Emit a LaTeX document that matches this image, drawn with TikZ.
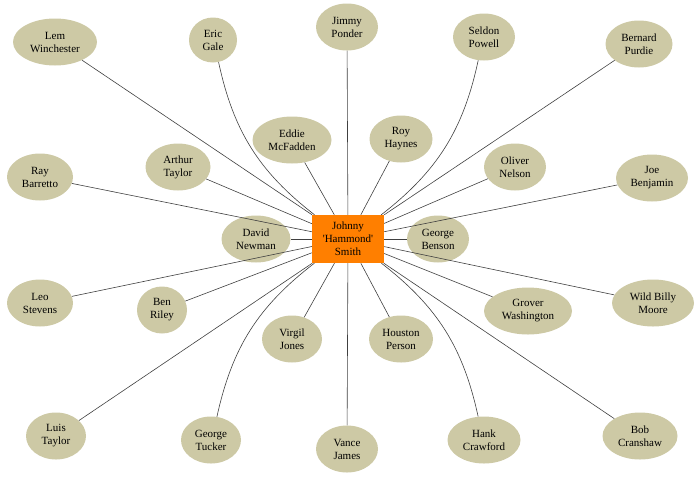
\documentclass[tikz,border=0pt]{standalone}
\usepackage{fontspec}
\setmainfont{Liberation Serif}
\usetikzlibrary{shapes.geometric}
\definecolor{chiffon}{HTML}{CDC9A5}
\definecolor{hubfill}{HTML}{FF7F00}
\tikzset{
    musician/.style = {ellipse, fill=chiffon, inner sep=1pt, align=center,
                       minimum width=62pt, minimum height=47pt,
                       font=\fontsize{11}{13}\selectfont},
    leader/.style   = {rectangle, fill=hubfill, inner sep=1pt, align=center,
                       minimum width=72pt, minimum height=48pt,
                       font=\fontsize{11}{13}\selectfont},
    link/.style     = {draw=black!75, line width=0.6pt}
}

\begin{document}
\begin{tikzpicture}[x=1pt, y=-1pt]
\useasboundingbox (0,0) rectangle (700,477);

% ================= Leader =================
\node[leader] (hub) at (348,239)
    {Johnny\\\textquotesingle Hammond\textquotesingle\\Smith};

% ================= Outer ring, top =================
\node[musician, minimum width=84pt] (lem) at (55,42) {Lem\\Winchester};
\node[musician, minimum width=48pt, minimum height=45pt] (eric) at (213,40) {Eric\\Gale};
\node[musician] (jimmy) at (347,27) {Jimmy\\Ponder};
\node[musician] (seldon) at (484,37) {Seldon\\Powell};
\node[musician, minimum width=67pt] (bernard) at (639,44) {Bernard\\Purdie};

% ================= Middle band =================
\node[musician, minimum width=66pt] (ray) at (40,177) {Ray\\Barretto};
\node[musician, minimum width=65pt] (arthur) at (178,167) {Arthur\\Taylor};
\node[musician, minimum width=79pt] (eddie) at (292,140) {Eddie\\McFadden};
\node[musician, minimum width=63pt] (roy) at (401,139) {Roy\\Haynes};
\node[musician] (oliver) at (515,167) {Oliver\\Nelson};
\node[musician, minimum width=72pt] (joe) at (652,178) {Joe\\Benjamin};
\node[musician, minimum width=69pt] (david) at (256,239) {David\\Newman};
\node[musician] (georgeb) at (438,239) {George\\Benson};
\node[musician, minimum width=66pt] (leo) at (40,303) {Leo\\Stevens};
\node[musician, minimum width=50pt] (ben) at (162,310) {Ben\\Riley};
\node[musician, minimum width=60pt] (virgil) at (292,339) {Virgil\\Jones};
\node[musician, minimum width=64pt] (houston) at (401,339) {Houston\\Person};
\node[musician, minimum width=88pt] (grover) at (528,311) {Grover\\Washington};
\node[musician, minimum width=82pt] (billy) at (653,303) {Wild Billy\\Moore};

% ================= Outer ring, bottom =================
\node[musician, minimum width=60pt] (luis) at (56,436) {Luis\\Taylor};
\node[musician, minimum width=60pt] (georget) at (211,440) {George\\Tucker};
\node[musician] (vance) at (347,449) {Vance\\James};
\node[musician, minimum width=73pt] (hank) at (484,440) {Hank\\Crawford};
\node[musician, minimum width=75pt] (bob) at (640,436) {Bob\\Cranshaw};

% ================= Links =================
\foreach \who in {lem, jimmy, bernard, ray, arthur, eddie, roy, oliver, joe,
                  david, georgeb, leo, ben, virgil, houston, grover, billy,
                  luis, vance, bob}
    \draw[link] (hub) -- (\who);
\draw[link] (eric) to[bend right=20] (hub);
\draw[link] (seldon) to[bend left=20] (hub);
\draw[link] (georget) to[bend left=20] (hub);
\draw[link] (hank) to[bend right=20] (hub);

\end{tikzpicture}
\end{document}
